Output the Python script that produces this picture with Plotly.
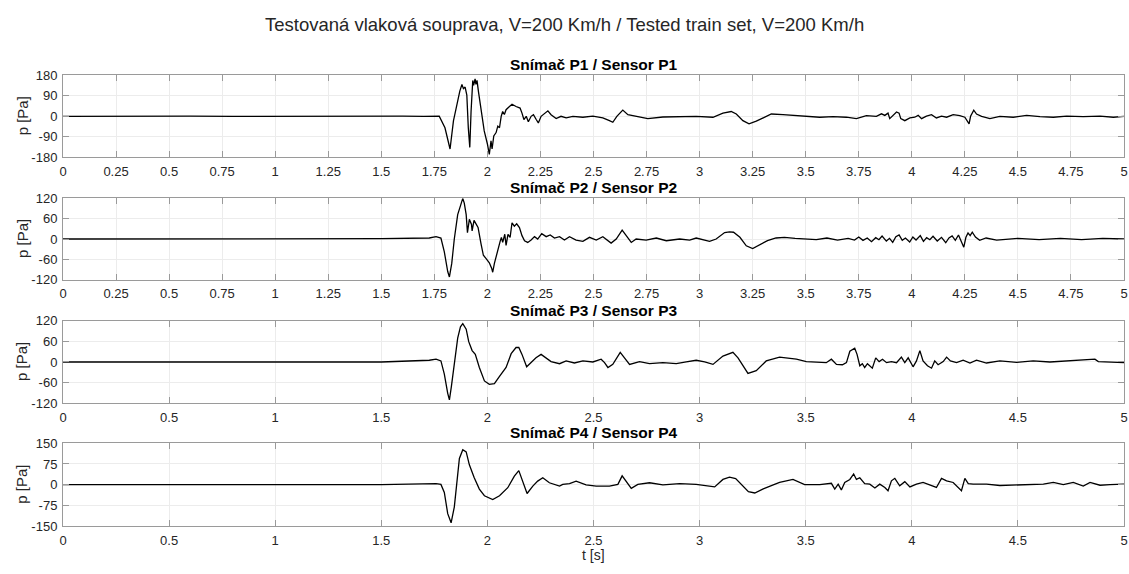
import plotly.graph_objects as go

# ---------------- data ----------------
t1 = [0.0, 0.2, 0.4, 0.6, 0.8, 1.0, 1.2, 1.4, 1.6, 1.7, 1.773, 1.80, 1.824, 1.84, 1.857, 1.87, 1.88, 1.887, 1.895,
      1.903, 1.910, 1.917, 1.923, 1.931, 1.935, 1.942, 1.946, 1.951, 1.958, 1.970, 1.985, 2.0, 2.009, 2.017, 2.022,
      2.03, 2.041, 2.049, 2.057, 2.065, 2.072, 2.080, 2.088, 2.104, 2.116, 2.135, 2.154, 2.163, 2.172, 2.183, 2.193,
      2.206, 2.217, 2.230, 2.240, 2.253, 2.269, 2.285, 2.30, 2.324, 2.347, 2.371, 2.403, 2.45, 2.497, 2.544, 2.575,
      2.591, 2.610, 2.638, 2.662, 2.701, 2.756, 2.827, 2.906, 2.984, 3.063, 3.11, 3.149, 3.173, 3.204, 3.233, 3.267,
      3.314, 3.338, 3.393, 3.456, 3.503, 3.566, 3.629, 3.692, 3.739, 3.786, 3.833, 3.857, 3.873, 3.888, 3.896, 3.912,
      3.928, 3.940, 3.948, 3.967, 3.991, 4.014, 4.030, 4.046, 4.069, 4.093, 4.116, 4.140, 4.164, 4.195, 4.226, 4.250,
      4.263, 4.270, 4.277, 4.292, 4.305, 4.329, 4.368, 4.415, 4.478, 4.541, 4.604, 4.667, 4.730, 4.808, 4.887, 4.950,
      5.0]
p1 = [0, 1, -1, 1, 0, 1, -1, 0, 1, 0, 1, -50, -143, -20, 60, 110, 139, 121, 128,
      93, -50, -136, 21, 157, 135, 164, 140, 157, 107, 21, -64, -121, -167, -107, -143,
      -86, -71, -43, -50, 0, 21, 8, 29, 43, 53, 43, 36, 14, -14, 0, -24,
      0, 7, -14, -29, 0, 14, 24, 7, -10, 0, -7, 0, -4, 1, -7, -19,
      -26, 0, 27, 7, 0, -10, -3, -1, 0, -4, 14, 21, 10, -19, -33, -21,
      0, 10, 7, 3, 0, -4, -1, -4, -10, 3, 0, 11, 4, 14, -10, 7,
      19, 14, -10, -19, -7, -4, 4, -10, 1, 7, -7, 1, -4, 7, 3, -4,
      -21, -33, 0, 27, 10, 0, -10, 0, -4, 4, -1, -4, 1, -1, 1, -4,
      0]

t2 = [0.0, 0.25, 0.5, 0.75, 1.0, 1.25, 1.5, 1.726, 1.758, 1.781, 1.797, 1.813, 1.821, 1.832, 1.844, 1.860, 1.873,
      1.884, 1.891, 1.900, 1.906, 1.915, 1.925, 1.928, 1.937, 1.946, 1.956, 1.970, 1.981, 1.994, 2.009, 2.020,
      2.025, 2.033, 2.041, 2.052, 2.060, 2.066, 2.072, 2.082, 2.088, 2.097, 2.107, 2.116, 2.127, 2.138, 2.151,
      2.163, 2.175, 2.190, 2.206, 2.222, 2.237, 2.256, 2.277, 2.296, 2.316, 2.340, 2.363, 2.387, 2.418, 2.450,
      2.481, 2.513, 2.544, 2.583, 2.607, 2.635, 2.654, 2.678, 2.701, 2.748, 2.796, 2.843, 2.906, 2.953, 2.984,
      3.047, 3.078, 3.118, 3.141, 3.16, 3.19, 3.22, 3.25, 3.28, 3.32, 3.36, 3.40, 3.45, 3.50, 3.55, 3.60, 3.65,
      3.70, 3.73, 3.75, 3.77, 3.79, 3.81, 3.83, 3.845, 3.86, 3.88, 3.895, 3.91, 3.925, 3.94, 3.955,
      3.97, 3.99, 4.005, 4.02, 4.04, 4.055, 4.07, 4.085, 4.10, 4.12, 4.14, 4.16, 4.175, 4.19, 4.205,
      4.22, 4.235, 4.245, 4.255, 4.265, 4.275, 4.285, 4.30, 4.32, 4.35, 4.40, 4.50, 4.60, 4.70, 4.80, 4.90, 5.0]
p2 = [0, 0, 0, 0, 0, 1, 1, 3, 7, 3, -38, -96, -112, -72, 0, 72, 101,
      120, 106, 72, 19, 58, 43, 24, 55, 43, 34, -14, -48, -58, -70, -86,
      -98, -72, -51, -29, -7, 5, -10, 14, -19, 14, 5, 48, 38, 45, 34,
      10, -5, -10, -3, 7, 0, 16, 7, 12, 3, 7, -3, 7, -3, -7,
      5, -3, 7, -12, 0, 26, 10, -10, 0, -3, 3, -5, 0, -3, 3,
      -7, 0, 19, 21, 20, 5, -20, -28, -18, -5, 3, 5, 2, 0, -2, 3, -3,
      2, -3, 6, -4, 3, -8, 4, -2, 9, -6, 2, -10, 7, 12, -4,
      3, -9, 6, -3, 10, -7, 4, -2, 8, -6, 5, -11, 3, 9, -4,
      12, -8, -24, 5, 18, 10, 20, 6, -4, 3, -3, 2, -2, 2, -2, 2, 0]

t3 = [0.0, 0.25, 0.5, 0.75, 1.0, 1.25, 1.5, 1.726, 1.758, 1.781, 1.797, 1.813, 1.821, 1.830, 1.844, 1.860, 1.873,
      1.884, 1.900, 1.912, 1.928, 1.943, 1.962, 1.986, 2.009, 2.033, 2.057, 2.088, 2.112, 2.135, 2.148, 2.163,
      2.185, 2.206, 2.229, 2.253, 2.277, 2.300, 2.340, 2.371, 2.410, 2.450, 2.497, 2.536, 2.552, 2.568, 2.591,
      2.610, 2.626, 2.646, 2.670, 2.717, 2.764, 2.827, 2.890, 2.937, 2.984, 3.024, 3.063, 3.110, 3.157, 3.181,
      3.204, 3.228, 3.267, 3.314, 3.377, 3.456, 3.503, 3.597, 3.621, 3.645, 3.673, 3.692, 3.708, 3.720, 3.731,
      3.742, 3.755, 3.767, 3.778, 3.791, 3.802, 3.814, 3.830, 3.846, 3.862, 3.881, 3.904, 3.928, 3.951, 3.967,
      3.983, 4.006, 4.022, 4.038, 4.053, 4.074, 4.093, 4.108, 4.124, 4.148, 4.164, 4.182, 4.211, 4.242, 4.274,
      4.305, 4.352, 4.415, 4.494, 4.572, 4.651, 4.730, 4.792, 4.863, 4.879, 4.950, 5.0]
p3 = [0, 0, 1, 0, 0, 1, 0, 5, 8, 3, -35, -91, -110, -72, -7, 69, 102,
      111, 95, 59, 33, 22, -16, -55, -65, -63, -42, -16, 24, 42, 42, 22,
      -14, -2, 12, 22, 12, 1, -5, 3, -3, 3, 0, 8, -2, -16, -7,
      12, 28, 12, -7, 1, -5, -2, -5, 0, 5, 0, -7, 17, 28, 12,
      -11, -33, -25, 3, 14, 8, 1, -2, 8, -7, -8, -2, 31, 36, 40,
      22, -11, -5, -16, -5, -11, -18, 12, 1, 8, -2, 1, -2, 14, -2,
      12, -14, 3, 33, 3, -11, -18, 3, -8, 1, 14, 3, -2, 5, -3,
      5, -3, 3, -1, 3, 0, 3, 5, 8, 1, -1, -2]

t4 = [0.0, 0.25, 0.5, 0.75, 1.0, 1.25, 1.5, 1.758, 1.781, 1.797, 1.813, 1.829, 1.844, 1.855, 1.868, 1.884, 1.900,
      1.915, 1.938, 1.962, 1.986, 2.025, 2.057, 2.096, 2.127, 2.148, 2.167, 2.187, 2.214, 2.237, 2.261, 2.292,
      2.340, 2.355, 2.387, 2.418, 2.465, 2.513, 2.575, 2.615, 2.635, 2.654, 2.678, 2.709, 2.764, 2.827, 2.906,
      2.984, 3.071, 3.110, 3.141, 3.17, 3.20, 3.23, 3.26, 3.30, 3.35, 3.377, 3.440, 3.495, 3.566, 3.621, 3.637,
      3.653, 3.668, 3.684, 3.708, 3.726, 3.739, 3.755, 3.778, 3.802, 3.826, 3.849, 3.873, 3.888, 3.904, 3.920,
      3.943, 3.967, 3.991, 4.022, 4.053, 4.085, 4.116, 4.140, 4.164, 4.195, 4.219, 4.234, 4.250, 4.266, 4.289,
      4.352, 4.415, 4.502, 4.572, 4.620, 4.667, 4.714, 4.761, 4.808, 4.840, 4.887, 4.934, 5.0]
p4 = [0, 1, 0, 0, 1, 0, 0, 4, 1, -28, -105, -138, -81, 1, 95, 127, 119,
      72, 25, -16, -40, -54, -40, -11, 31, 51, 13, -32, -5, 13, 25, 7,
      -5, 1, 4, 13, -1, -5, -5, 1, 32, 13, -13, 1, 7, -1, 4,
      1, -8, 19, 27, 22, 0, -25, -30, -15, 0, 8, 19, 0, 0, 5, -16,
      2, -19, 8, 19, 39, 19, 25, 4, 2, -12, 2, -10, -22, 14, 23,
      -4, 11, -8, 2, 8, 0, -10, 23, 14, 8, -10, -22, 23, 4, 2,
      2, -3, 0, 0, 2, 8, 0, 8, -5, 8, -2, 0, 2]

titles = ["Snímač P1 / Sensor P1", "Snímač P2 / Sensor P2", "Snímač P3 / Sensor P3", "Snímač P4 / Sensor P4"]
main_title = "Testovaná vlaková souprava, V=200 Km/h / Tested train set, V=200 Km/h"
x_label = "t [s]"
y_label = "p [Pa]"

xt_fine = [0, 0.25, 0.5, 0.75, 1, 1.25, 1.5, 1.75, 2, 2.25, 2.5, 2.75, 3, 3.25, 3.5, 3.75, 4, 4.25, 4.5, 4.75, 5]
xt_fine_txt = ["0", "0.25", "0.5", "0.75", "1", "1.25", "1.5", "1.75", "2", "2.25", "2.5", "2.75",
               "3", "3.25", "3.5", "3.75", "4", "4.25", "4.5", "4.75", "5"]
xt_coarse = [0, 0.5, 1, 1.5, 2, 2.5, 3, 3.5, 4, 4.5, 5]
xt_coarse_txt = ["0", "0.5", "1", "1.5", "2", "2.5", "3", "3.5", "4", "4.5", "5"]
y_lims = [180, 120, 120, 150]
y_ticks = [[-180, -90, 0, 90, 180], [-120, -60, 0, 60, 120], [-120, -60, 0, 60, 120], [-150, -75, 0, 75, 150]]

# ---------------- layout ----------------
W, H = 1129, 574
L, R = 63, 5
panels_px = [(70, 154.5), (196.5, 280), (322, 407), (448, 533)]  # top, bottom in px
FONT = "Liberation Sans, Arial, sans-serif"
series = [(t1, p1), (t2, p2), (t3, p3), (t4, p4)]

fig = go.Figure()
annotations = []
for i, ((tt, pp), (top, bot)) in enumerate(zip(series, panels_px)):
    n = "" if i == 0 else str(i + 1)
    fig.add_trace(go.Scatter(x=tt, y=pp, mode="lines", line=dict(color="black", width=1.3),
                             xaxis="x" + n, yaxis="y" + n, showlegend=False, hoverinfo="skip"))
    dom = [1 - bot / H, 1 - top / H]
    fine = i < 2
    axcommon = dict(showline=True, linecolor="#9a9a9a", linewidth=1, mirror="ticks",
                    ticks="inside", ticklen=6, tickcolor="#9a9a9a", tickwidth=1,
                    showgrid=True, gridcolor="#ececec", gridwidth=1, zeroline=False,
                    tickfont=dict(family=FONT, size=13, color="#262626"))
    fig.update_layout(**{
        "xaxis" + n: dict(domain=[0, 1], range=[0, 5], anchor="y" + n, ticklabelstandoff=2,
                          tickvals=xt_fine if fine else xt_coarse,
                          ticktext=xt_fine_txt if fine else xt_coarse_txt, **axcommon),
        "yaxis" + n: dict(domain=dom, range=[-y_lims[i], y_lims[i]], anchor="x" + n, ticklabelstandoff=2,
                          tickvals=y_ticks[i], ticktext=[str(v) for v in y_ticks[i]], **axcommon),
    })
    annotations.append(dict(text="<b>%s</b>" % titles[i], xref="paper", yref="paper", x=0.5, y=dom[1],
                            xanchor="center", yanchor="bottom", yshift=0, showarrow=False,
                            font=dict(family=FONT, size=15.5, color="black")))
    annotations.append(dict(text=y_label, xref="paper", yref="paper", x=(22 - L) / (W - L - R),
                            y=(dom[0] + dom[1]) / 2, xanchor="center", yanchor="middle", textangle=-90,
                            showarrow=False, font=dict(family=FONT, size=15, color="#262626")))

annotations.append(dict(text=main_title, xref="paper", yref="paper", x=(564 - L) / (W - L - R), y=1 - 18 / H,
                        xanchor="center", yanchor="middle", showarrow=False,
                        font=dict(family=FONT, size=18.5, color="#262626")))
annotations.append(dict(text=x_label, xref="paper", yref="paper", x=0.5, y=1 - 563 / H,
                        xanchor="center", yanchor="middle", showarrow=False,
                        font=dict(family=FONT, size=14, color="#262626")))

fig.update_layout(width=W, height=H, margin=dict(l=L, r=R, t=0, b=0),
                  paper_bgcolor="white", plot_bgcolor="white", annotations=annotations)
fig.write_html("out.html", config={"displayModeBar": False},
               post_script="document.body.style.margin='0';document.body.style.overflow='hidden';")
